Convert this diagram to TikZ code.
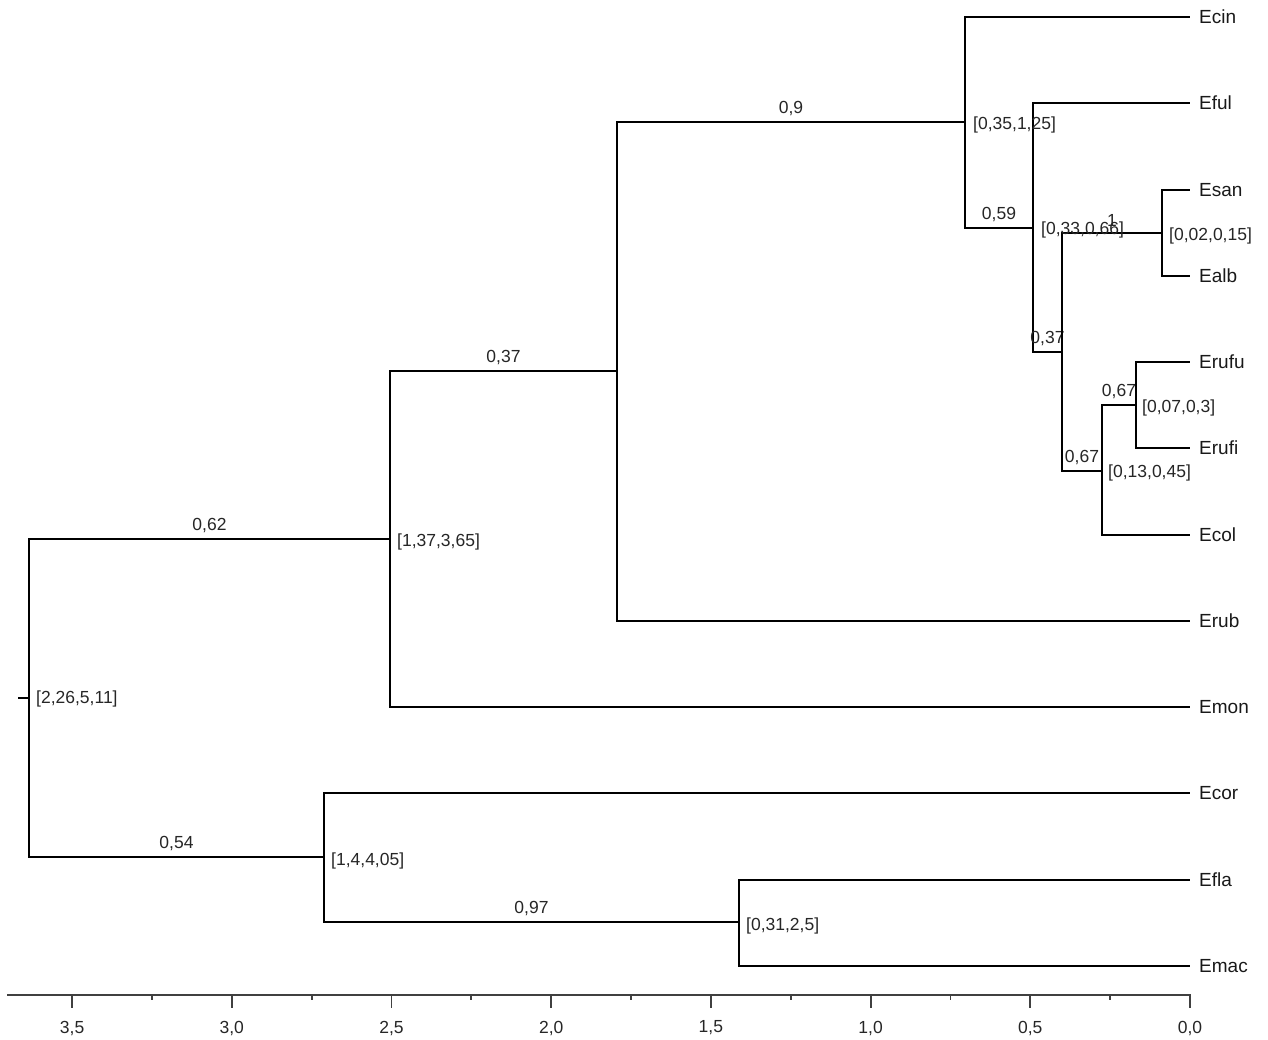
\documentclass[tikz,border=0pt]{standalone}
\usepackage{fontspec}
\setmainfont{Liberation Sans}
\begin{document}
\begin{tikzpicture}[x=1pt,y=-1pt]
\tikzset{
 br/.style={draw=black, line width=2.8pt},
 leaf/.style={anchor=west, inner xsep=9pt, inner ysep=0pt, font=\fontsize{19}{19}\selectfont, text=black!90},
 blab/.style={anchor=west, inner sep=0pt, font=\fontsize{17.5}{17.5}\selectfont, text=black!85},
 elab/.style={inner sep=0pt, above=5pt, pos=0.75, font=\fontsize{17.5}{17.5}\selectfont, text=black!85},
 axis/.style={draw=black!75, line width=1.8pt},
 axl/.style={inner sep=0pt, font=\fontsize{17.5}{17.5}\selectfont, text=black!85},
}
\useasboundingbox (0,0) rectangle (1268,1040);
% internal nodes
\coordinate (stub) at (18,698);
\coordinate (root) at (29,698);
\coordinate (A) at (390,539);
\coordinate (B) at (617,371);
\coordinate (C) at (965,122);
\coordinate (D) at (1033,228);
\coordinate (E) at (1062,352);
\coordinate (F) at (1162,233);
\coordinate (G) at (1102,471);
\coordinate (H) at (1136,405);
\coordinate (I) at (324,857);
\coordinate (J) at (739,922);
% leaves
\node[leaf] (Ecin)  at (1190,17)  {Ecin};
\node[leaf] (Eful)  at (1190,103) {Eful};
\node[leaf] (Esan)  at (1190,190) {Esan};
\node[leaf] (Ealb)  at (1190,276) {Ealb};
\node[leaf] (Erufu) at (1190,362) {Erufu};
\node[leaf] (Erufi) at (1190,448) {Erufi};
\node[leaf] (Ecol)  at (1190,535) {Ecol};
\node[leaf] (Erub)  at (1190,621) {Erub};
\node[leaf] (Emon)  at (1190,707) {Emon};
\node[leaf] (Ecor)  at (1190,793) {Ecor};
\node[leaf] (Efla)  at (1190,880) {Efla};
\node[leaf] (Emac)  at (1190,966) {Emac};
% branches
\draw[br] (stub) -- (root);
\draw[br] (root) |- (A) node[elab] (lA) {0,62};
\draw[br] (root) |- (I) node[elab] (lI) {0,54};
\draw[br] (A) |- (B) node[elab] (lB) {0,37};
\draw[br] (A) |- (Emon.west);
\draw[br] (B) |- (C) node[elab] (lC) {0,9};
\draw[br] (B) |- (Erub.west);
\draw[br] (C) |- (Ecin.west);
\draw[br] (C) |- (D) node[elab] (lD) {0,59};
\draw[br] (D) |- (Eful.west);
\draw[br] (D) |- (E) node[elab] (lE) {0,37};
\draw[br] (E) |- (F) node[elab] (lF) {1};
\draw[br] (E) |- (G) node[elab] (lG) {0,67};
\draw[br] (F) |- (Esan.west);
\draw[br] (F) |- (Ealb.west);
\draw[br] (G) |- (H) node[elab] (lH) {0,67};
\draw[br] (G) |- (Ecol.west);
\draw[br] (H) |- (Erufu.west);
\draw[br] (H) |- (Erufi.west);
\draw[br] (I) |- (Ecor.west);
\draw[br] (I) |- (J) node[elab] (lJ) {0,97};
\draw[br] (J) |- (Efla.west);
\draw[br] (J) |- (Emac.west);
% interval labels
\node[blab] (bRoot) at ([xshift=7pt,yshift=-1pt]root) {[2,26,5,11]};
\node[blab] (bA) at ([xshift=7pt,yshift=-3pt]A) {[1,37,3,65]};
\node[blab] (bC) at ([xshift=8pt,yshift=-3pt]C) {[0,35,1,25]};
\node[blab] (bD) at ([xshift=8pt,yshift=-2pt]D) {[0,33,0,66]};
\node[blab] (bF) at ([xshift=7pt,yshift=-3pt]F) {[0,02,0,15]};
\node[blab] (bG) at ([xshift=6pt,yshift=-2pt]G) {[0,13,0,45]};
\node[blab] (bH) at ([xshift=6pt,yshift=-3pt]H) {[0,07,0,3]};
\node[blab] (bI) at ([xshift=7pt,yshift=-4pt]I) {[1,4,4,05]};
\node[blab] (bJ) at ([xshift=7pt,yshift=-4pt]J) {[0,31,2,5]};
% axis
\coordinate (axL) at (7,995);
\coordinate (axR) at (1191,995);
\draw[axis] (axL) -- (axR);
\foreach \k/\t in {0/{0,0},1/{0,5},2/{1,0},3/{1,5},4/{2,0},5/{2,5},6/{3,0},7/{3,5}} {
  \draw[axis] (1190-159.7*\k,995) -- (1190-159.7*\k,1008);
  \node[axl] (ax\k) at (1190-159.7*\k,1028) {\t};
}
\foreach \k in {0,...,6} {
  \draw[axis] (1190-159.7*\k-79.85,995) -- (1190-159.7*\k-79.85,1000);
}
\end{tikzpicture}
\end{document}
